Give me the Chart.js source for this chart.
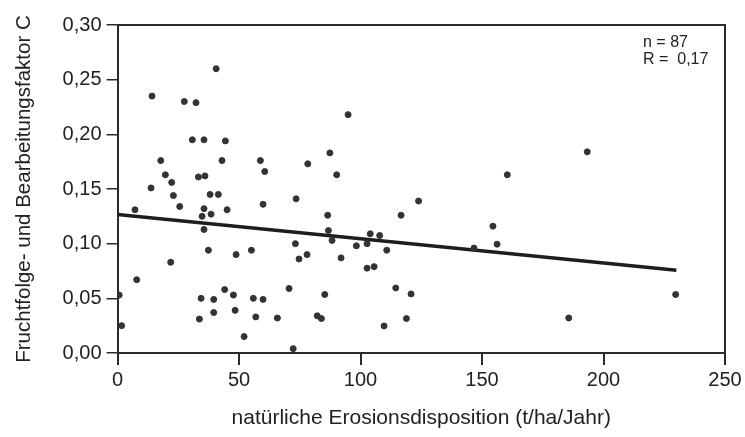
<!DOCTYPE html>
<html>
<head>
<meta charset="utf-8">
<script src="https://cdn.jsdelivr.net/npm/chart.js@4.4.1/dist/chart.umd.min.js"></script>
<style>
  html, body { margin: 0; padding: 0; background: #fff; }
  #wrap { width: 745px; height: 437px; }
</style>
</head>
<body>
<div id="wrap"><canvas id="chart" width="745" height="437"></canvas></div>
<script>
// Erosionsdisposition (x) und C-Faktor (y)
const erosion = [
  40.6, 14.2, 27.5, 32.3, 30.8, 35.6, 44.4, 17.8, 43.0, 58.8, 78.3, 19.7, 60.6, 22.3, 33.3, 36.0, 13.8,
  23.0, 38.1, 41.5, 7.2, 25.6, 35.6, 38.5, 34.8, 45.1, 59.9, 73.5, 35.6, 73.2, 37.4, 48.8, 55.1, 74.7,
  78.0, 21.9, 7.9, 0.7, 44.1, 47.7, 70.6, 34.4, 39.6, 55.9, 59.9, 39.6, 48.4, 33.7, 56.9, 65.8, 82.2,
  1.7, 52.1, 72.3,
  94.9, 87.4, 90.2, 160.4,
  123.9, 86.5, 116.7, 86.8, 88.3, 104.0, 107.9, 98.3, 102.7, 110.8, 154.5, 156.2, 146.7, 92.0, 102.7,
  105.6, 114.5, 120.8, 85.3, 83.9, 109.7, 118.9,
  229.7, 185.7, 193.3
];
const cFaktor = [
  0.260, 0.235, 0.230, 0.229, 0.195, 0.195, 0.194, 0.176, 0.176, 0.176, 0.173, 0.163, 0.166, 0.156, 0.161, 0.162, 0.151,
  0.144, 0.145, 0.145, 0.131, 0.134, 0.132, 0.127, 0.125, 0.131, 0.136, 0.141, 0.113, 0.100, 0.094, 0.090, 0.094, 0.086,
  0.090, 0.083, 0.067, 0.053, 0.058, 0.053, 0.059, 0.050, 0.049, 0.050, 0.049, 0.037, 0.039, 0.031, 0.033, 0.032, 0.034,
  0.025, 0.015, 0.004,
  0.218, 0.183, 0.163, 0.163,
  0.139, 0.126, 0.126, 0.112, 0.103, 0.109, 0.1075, 0.098, 0.100, 0.094, 0.116, 0.0995, 0.096, 0.087, 0.0776,
  0.079, 0.0595, 0.054, 0.0535, 0.0315, 0.0247, 0.0315,
  0.0535, 0.032, 0.184
];

// Regressionsgerade (Endpunkte)
const trendX = [0, 230];
const trendY = [0.1267, 0.0757];

const xTicks = [0, 50, 100, 150, 200, 250];
const yTicks = [0, 0.05, 0.10, 0.15, 0.20, 0.25, 0.30];
const statsText = ['n = 87', 'R =  0,17'];

const ink = '#2b2b2b';
const font = 'Liberation Sans, Arial, sans-serif';

// box round the plot + n/R text
const framePlugin = {
  id: 'frame',
  afterDraw(chart) {
    const { ctx, chartArea: a } = chart;
    ctx.save();
    ctx.strokeStyle = ink;
    ctx.lineWidth = 2;
    ctx.beginPath();
    ctx.moveTo(a.left, a.top);
    ctx.lineTo(a.right, a.top);
    ctx.lineTo(a.right, a.bottom);
    ctx.stroke();
    ctx.fillStyle = '#222';
    ctx.font = '16px ' + font;
    ctx.textBaseline = 'middle';
    ctx.fillText(statsText[0], 643, 43);
    ctx.fillText(statsText[1], 643, 60);
    ctx.restore();
  }
};

new Chart(document.getElementById('chart'), {
  type: 'scatter',
  data: {
    datasets: [
      {
        data: erosion.map((x, i) => ({ x: x, y: cFaktor[i] })),
        backgroundColor: '#333',
        borderColor: '#333',
        pointRadius: 3,
        pointHoverRadius: 3
      },
      {
        type: 'line',
        data: trendX.map((x, i) => ({ x: x, y: trendY[i] })),
        borderColor: '#1e1e1e',
        borderWidth: 3.5,
        pointRadius: 0,
        fill: false
      }
    ]
  },
  options: {
    responsive: false,
    animation: false,
    layout: { padding: { top: 25, right: 20, left: 0, bottom: 0 } },
    plugins: { legend: { display: false }, tooltip: { enabled: false } },
    scales: {
      x: {
        type: 'linear',
        min: 0,
        max: 250,
        afterBuildTicks: s => { s.ticks = xTicks.map(v => ({ value: v })); },
        afterFit: s => { s.height = 84; },
        border: { color: ink, width: 2 },
        grid: { drawOnChartArea: false, drawTicks: true, tickLength: 12, color: ink, lineWidth: 2 },
        ticks: { color: '#222', font: { family: font, size: 20 }, padding: 3, maxRotation: 0 },
        title: {
          display: true,
          text: 'natürliche Erosionsdisposition (t/ha/Jahr)',
          color: '#222',
          font: { family: font, size: 21 },
          padding: { top: 0, bottom: 6 }
        }
      },
      y: {
        min: 0,
        max: 0.30,
        afterBuildTicks: s => { s.ticks = yTicks.map(v => ({ value: v })); },
        afterFit: s => { s.width = 117.5; },
        border: { color: ink, width: 2 },
        grid: { drawOnChartArea: false, drawTicks: true, tickLength: 11, color: ink, lineWidth: 1.5 },
        ticks: {
          color: '#222',
          font: { family: font, size: 20 },
          padding: 5,
          callback: v => v.toFixed(2).replace('.', ',')
        },
        title: {
          display: true,
          text: 'Fruchtfolge- und Bearbeitungsfaktor C',
          color: '#222',
          font: { family: font, size: 20.5 },
          padding: { top: 12, bottom: 0 }
        }
      }
    }
  },
  plugins: [framePlugin]
});
</script>
</body>
</html>
